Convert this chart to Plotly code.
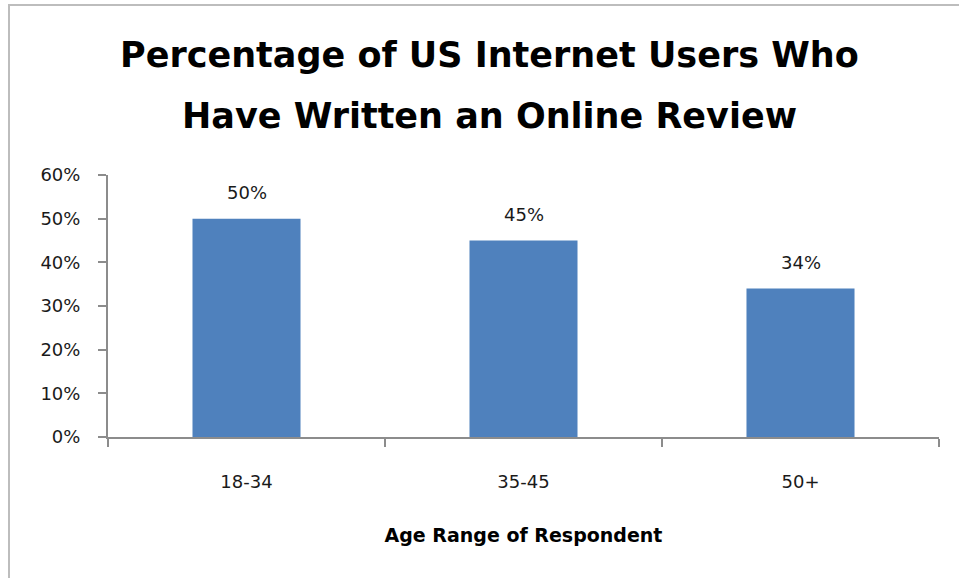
import plotly.graph_objects as go

categories = ["18-34", "35-45", "50+"]
values = [0.50, 0.45, 0.34]
value_labels = ["50%", "45%", "34%"]
y_ticks = [0, 0.1, 0.2, 0.3, 0.4, 0.5, 0.6]
y_tick_labels = ["0%", "10%", "20%", "30%", "40%", "50%", "60%"]

title_line1 = "Percentage of US Internet Users Who"
title_line2 = "Have Written an Online Review"
x_title = "Age Range of Respondent"

W, H = 959, 578
L, R, T, B = 108, 20, 175, 141
pw, ph = W - L - R, H - T - B

def px_to_paper_x(px):
    return (px - L) / pw

def px_to_paper_y(py):
    return (H - B - py) / ph

FONT = "DejaVu Sans"
AXIS_COLOR = "#8C8C8C"
TEXT_COLOR = "#1A1A1A"

fig = go.Figure()
fig.add_trace(go.Bar(
    x=categories, y=values,
    marker=dict(color="#4F81BD", line=dict(width=0)),
    hoverinfo="skip",
))

annotations = []
for c, v, t in zip(categories, values, value_labels):
    annotations.append(dict(x=c, y=v, xref="x", yref="y", text=t, showarrow=False,
                            yanchor="bottom", yshift=14,
                            font=dict(family=FONT, size=18, color=TEXT_COLOR)))

annotations.append(dict(x=px_to_paper_x(489), y=px_to_paper_y(55), xref="paper", yref="paper",
                        text="<b>" + title_line1 + "</b>", showarrow=False,
                        xanchor="center", yanchor="middle",
                        font=dict(family=FONT, size=35, color="#000000")))
annotations.append(dict(x=px_to_paper_x(489), y=px_to_paper_y(116), xref="paper", yref="paper",
                        text="<b>" + title_line2 + "</b>", showarrow=False,
                        xanchor="center", yanchor="middle",
                        font=dict(family=FONT, size=35, color="#000000")))

fig.update_layout(
    width=W, height=H,
    margin=dict(l=L, r=R, t=T, b=B),
    paper_bgcolor="white", plot_bgcolor="white",
    bargap=0.61,
    showlegend=False,
    annotations=annotations,
    shapes=[dict(type="rect", xref="paper", yref="paper",
                 x0=px_to_paper_x(9), x1=px_to_paper_x(1030),
                 y0=px_to_paper_y(700), y1=px_to_paper_y(5),
                 line=dict(color="#BDBDBD", width=2), fillcolor="rgba(0,0,0,0)", layer="below")],
    xaxis=dict(
        showline=True, linecolor=AXIS_COLOR, linewidth=2,
        ticks="outside", tickson="boundaries", ticklen=8, tickcolor=AXIS_COLOR, tickwidth=2,
        showgrid=False, zeroline=False,
        tickfont=dict(family=FONT, size=18, color=TEXT_COLOR),
        ticklabelstandoff=27,
        title=dict(text="<b>" + x_title + "</b>", standoff=38,
                   font=dict(family=FONT, size=19, color="#000000")),
        fixedrange=True,
    ),
    yaxis=dict(
        range=[0, 0.6], tickvals=y_ticks, ticktext=y_tick_labels,
        showline=True, linecolor=AXIS_COLOR, linewidth=2,
        ticks="outside", ticklen=8, tickcolor=AXIS_COLOR, tickwidth=2,
        showgrid=False, zeroline=False,
        tickfont=dict(family=FONT, size=18, color=TEXT_COLOR),
        ticklabelstandoff=14,
        fixedrange=True,
    ),
)

fig.write_html("out.html", config={"displayModeBar": False})
